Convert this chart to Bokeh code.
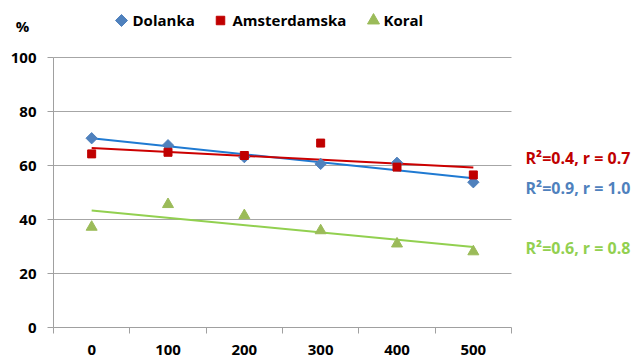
import numpy as np
from bokeh.plotting import figure
from bokeh.models import Label, FixedTicker
from bokeh.embed import file_html
from bokeh.resources import INLINE

doses = [0, 100, 200, 300, 400, 500]
dolanka = [70.1, 67.5, 63.1, 60.6, 61.0, 53.8]
amsterdamska = [64.3, 64.9, 63.7, 68.3, 59.4, 56.5]
koral = [37.2, 45.6, 41.5, 35.9, 31.0, 28.1]
y_ticks = [0, 20, 40, 60, 80, 100]
series_names = ["Dolanka", "Amsterdamska", "Koral"]
fit_labels = ["R\u00b2=0.9, r = 1.0", "R\u00b2=0.4, r = 0.7", "R\u00b2=0.6, r = 0.8"]
fit_label_y = [51.8, 62.6, 29.6]

FONT = "Open Sans"
W, H = 635, 362
# plot area in pixels (left, right, top, bottom) -> ranges
PL, PR, PT, PB = 53, 511, 57, 327
x0, x1 = doses[0] - 50, doses[-1] + 50
y0, y1 = y_ticks[0], y_ticks[-1]
dx = (x1 - x0) / (PR - PL)
dy = (y1 - y0) / (PB - PT)
x_range = (x0 - PL * dx, x1 + (W - PR) * dx)
y_range = (y0 - (H - PB) * dy, y1 + PT * dy)


def px_x(px):
    return x0 + (px - PL) * dx


def px_y(py):
    return y1 + (PT - py) * dy


p = figure(width=W, height=H, x_range=x_range, y_range=y_range,
           output_backend="svg", toolbar_location=None,
           min_border_left=0, min_border_right=0, min_border_top=0, min_border_bottom=0)
p.outline_line_color = None
p.background_fill_color = "white"
p.border_fill_color = "white"

# axes (fixed inside the frame so that all annotations can share it)
p.xaxis.fixed_location = y0
p.yaxis.fixed_location = x0
p.xaxis.bounds = (x0, x1)
p.yaxis.bounds = (y0, y1)
p.xaxis.ticker = FixedTicker(ticks=doses, minor_ticks=[d - 50 for d in doses] + [doses[-1] + 50])
p.xaxis.major_tick_line_color = None
p.xaxis.minor_tick_line_color = "#A0A0A0"
p.xaxis.minor_tick_out = 6
p.xaxis.minor_tick_in = 0
p.yaxis.ticker = FixedTicker(ticks=y_ticks)
p.yaxis.major_tick_out = 6
p.yaxis.major_tick_in = 0
p.yaxis.minor_tick_line_color = None
p.yaxis.major_tick_line_color = "#A0A0A0"
for ax in (p.xaxis, p.yaxis):
    ax.axis_line_color = "#A0A0A0"
    ax.axis_line_width = 1
    ax.major_label_text_font = FONT
    ax.major_label_text_font_style = "bold"
    ax.major_label_text_font_size = "15px"
    ax.major_label_text_color = "black"
p.xaxis.major_label_standoff = 11
p.yaxis.major_label_standoff = 11
p.xgrid.grid_line_color = None
p.ygrid.grid_line_color = None

# horizontal grid lines limited to the plot area
p.segment(x0=[x0] * (len(y_ticks) - 1), x1=[x1] * (len(y_ticks) - 1),
          y0=y_ticks[1:], y1=y_ticks[1:], line_color="#A6A6A6", line_width=1)

# trend lines
xs = np.array(doses, dtype=float)
line_colors = ["#1F7AD2", "#CC0000", "#92D050"]
label_colors = ["#4F81BD", "#C00000", "#92D050"]
for vals, c in zip([dolanka, amsterdamska, koral], line_colors):
    k, b = np.polyfit(xs, np.array(vals), 1)
    p.line([xs[0], xs[-1]], [k * xs[0] + b, k * xs[-1] + b], line_color=c, line_width=2)

# markers
marker_colors = ["#4F81BD", "#C00000", "#9BBB59"]
marker_kw = [dict(marker="square", size=8, angle=np.pi / 4),
             dict(marker="square", size=8),
             dict(marker="triangle", size=11)]
for vals, c, kw in zip([dolanka, amsterdamska, koral], marker_colors, marker_kw):
    p.scatter(doses, vals, fill_color=c, line_color=c, **kw)

# legend (drawn as swatches + labels above the plot area)
legend_marker_px = [121, 220, 373]
legend_text_px = [132, 232, 383]
legend_kw = [dict(marker="square", size=8.5, angle=np.pi / 4),
             dict(marker="square", size=8.5),
             dict(marker="triangle", size=12)]
for name, mx, tx, c, kw in zip(series_names, legend_marker_px, legend_text_px, marker_colors, legend_kw):
    p.scatter([px_x(mx)], [px_y(20)], fill_color=c, line_color=c, **kw)
    p.add_layout(Label(x=px_x(tx), y=px_y(19.5), text=name, text_font=FONT, text_font_style="bold",
                       text_font_size="15px", text_align="left", text_baseline="middle",
                       text_color="black"))

# "%" label
p.add_layout(Label(x=px_x(22), y=px_y(25), text="%", text_font=FONT, text_font_style="bold",
                   text_font_size="15px", text_align="center", text_baseline="middle",
                   text_color="black"))

# R labels
for t, yv, c in zip(fit_labels, fit_label_y, label_colors):
    p.add_layout(Label(x=px_x(525), y=yv, text=t, text_font=FONT, text_font_style="bold",
                       text_font_size="16px", text_align="left", text_baseline="middle",
                       text_color=c))

open("out.html", "w").write(file_html(p, INLINE))
